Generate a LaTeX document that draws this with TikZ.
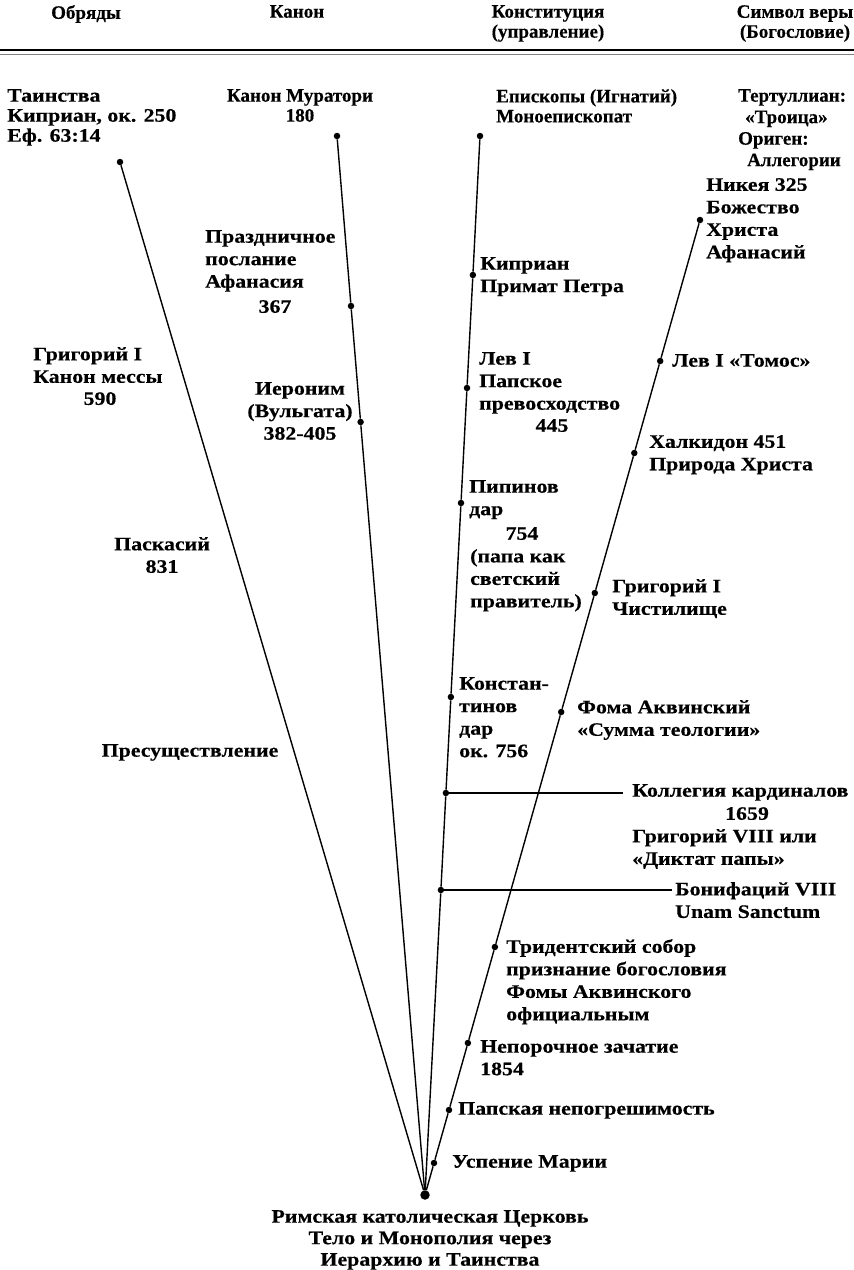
\documentclass[tikz,border=0pt]{standalone}
\usepackage{fontspec}
\newfontfamily\lbf{Liberation Serif}[UprightFont={* Bold}, FakeStretch=1.15, FakeBold=0.4]
\newfontfamily\lbn{Liberation Serif}[UprightFont={* Bold}, FakeStretch=1.0, FakeBold=0.4]
\usetikzlibrary{calc}
\begin{document}
\begin{tikzpicture}[x=1pt,y=-1pt,
  every node/.style={inner sep=0pt, font=\lbf\fontsize{19}{22.5}\selectfont},
  lbl/.style={align=left, anchor=north west},
  lblc/.style={align=center, anchor=north},
  dotn/.style={circle, fill=black, inner sep=0pt, minimum size=6.5pt},
  apexn/.style={circle, fill=black, inner sep=0pt, minimum size=9.5pt},
  ln/.style={line width=1.4pt},
  tight/.style={font=\lbf\fontsize{19}{20}\selectfont},
  narrow/.style={font=\lbn\fontsize{19}{20}\selectfont}]
\useasboundingbox (0,0) rectangle (854,1270);
% headers
\node[lblc,narrow] (h1) at (86,5) {Обряды};
\node[lblc,narrow] (h2) at (297,5) {Канон};
\node[lblc,narrow] (h3) at (548,5) {Конституция\\(управление)};
\node[lblc,narrow] (h4) at (795,5) {Символ веры\\(Богословие)};
\draw[line width=2.6pt] (0,50) -- (854,50);
\draw[line width=0.5pt, gray] (0,54) -- (854,54);
% apex
\node[apexn] (apex) at (425,1195) {};
% line 1
\node[dotn] (a0) at (120,162) {};
% line 2
\node[dotn] (b0) at (337,136) {};
\node[dotn] (b1) at (351.0,306) {};
\node[dotn] (b2) at (360.6,422) {};
% line 3
\node[dotn] (c0) at (480,136) {};
\node[dotn] (c1) at (472.9,275) {};
\node[dotn] (c2) at (467.0,388) {};
\node[dotn] (c3) at (461.0,503) {};
\node[dotn] (c4) at (450.9,697) {};
\node[dotn] (c5) at (445.9,793) {};
\node[dotn] (c6) at (440.9,890) {};
% line 4
\node[dotn] (d0) at (700,220) {};
\node[dotn] (d1) at (660.2,361) {};
\node[dotn] (d2) at (634.3,453) {};
\node[dotn] (d3) at (594.8,593) {};
\node[dotn] (d4) at (561.2,712) {};
\node[dotn] (d5) at (494.9,947) {};
\node[dotn] (d6) at (467.9,1043) {};
\node[dotn] (d7) at (449.0,1110) {};
\node[dotn] (d8) at (434.0,1163) {};
\coordinate (e5) at (623,793);
\coordinate (e6) at (672,890);
\draw[ln] (a0) -- (apex);
\draw[ln] (b0) -- (b1) -- (b2) -- (apex);
\draw[ln] (c0) -- (c1) -- (c2) -- (c3) -- (c4) -- (c5) -- (c6) -- (apex);
\draw[ln] (d0) -- (d1) -- (d2) -- (d3) -- (d4) -- (d5) -- (d6) -- (d7) -- (d8) -- (apex);
\draw[line width=1.1pt] (c5) -- (e5);
\draw[line width=1.1pt] (c6) -- (e6);
% column 1
\node[lbl,tight] (t1) at (7,89) {Таинства\\Киприан, ок. 250\\Еф. 63:14};
\node[lbl] (t2) at (33,347) {Григорий I\\Канон мессы};
\node[lblc] (t2b) at (100,392) {590};
\node[lblc] (t3) at (162,537) {Паскасий\\831};
\node[lblc] (t4) at (190,744) {Пресуществление};
% column 2
\node[lblc,narrow] (k1) at (300,89) {Канон Муратори\\180};
\node[lbl] (k2) at (205,230) {Праздничное\\послание\\Афанасия};
\node[lblc] (k2b) at (275,300) {367};
\node[lblc] (k3) at (300,382) {Иероним\\(Вульгата)\\382-405};
% column 3
\node[lbl,narrow] (s1) at (496,89) {Епископы (Игнатий)\\Моноепископат};
\node[lbl] (s2) at (480,257) {Киприан\\Примат Петра};
\node[lbl] (s3) at (479,352) {Лев I\\Папское\\превосходство};
\node[lblc] (s3b) at (552,419) {445};
\node[lbl] (s4) at (469,480) {Пипинов\\дар};
\node[lblc] (s4b) at (522,527) {754};
\node[lbl] (s4c) at (470,549) {(папа как\\светский\\правитель)};
\node[lbl] (s5) at (459,677) {Констан-\\тинов\\дар\\ок. 756};
\node[lbl] (s6) at (632,784) {Коллегия кардиналов};
\node[lblc] (s6b) at (747,807) {1659};
\node[lbl] (s6c) at (632,829) {Григорий VIII или\\«Диктат папы»};
\node[lbl] (s7) at (675,882) {Бонифаций VIII\\Unam Sanctum};
% column 4
\node[lbl,narrow,font=\lbn\fontsize{19}{21.5}\selectfont] (f1) at (738,89) {Тертуллиан:\\\hspace*{7pt}«Троица»\\Ориген:\\\hspace*{9pt}Аллегории};
\node[lbl] (f2) at (706,178) {Никея 325\\Божество\\Христа\\Афанасий};
\node[lbl] (f3) at (672,354) {Лев I «Томос»};
\node[lbl] (f4) at (649,435) {Халкидон 451\\Природа Христа};
\node[lbl] (f5) at (612,579) {Григорий I\\Чистилище};
\node[lbl] (f6) at (577,700) {Фома Аквинский\\«Сумма теологии»};
\node[lbl] (f7) at (506,939) {Тридентский собор\\признание богословия\\Фомы Аквинского\\официальным};
\node[lbl] (f8) at (480,1040) {Непорочное зачатие\\1854};
\node[lbl] (f9) at (458,1102) {Папская непогрешимость};
\node[lbl] (f10) at (452,1155) {Успение Марии};
% bottom
\node[lblc,font=\lbf\fontsize{19}{21.5}\selectfont] (bot) at (430,1210) {Римская католическая Церковь\\Тело и Монополия через\\Иерархию и Таинства};
\end{tikzpicture}
\end{document}
